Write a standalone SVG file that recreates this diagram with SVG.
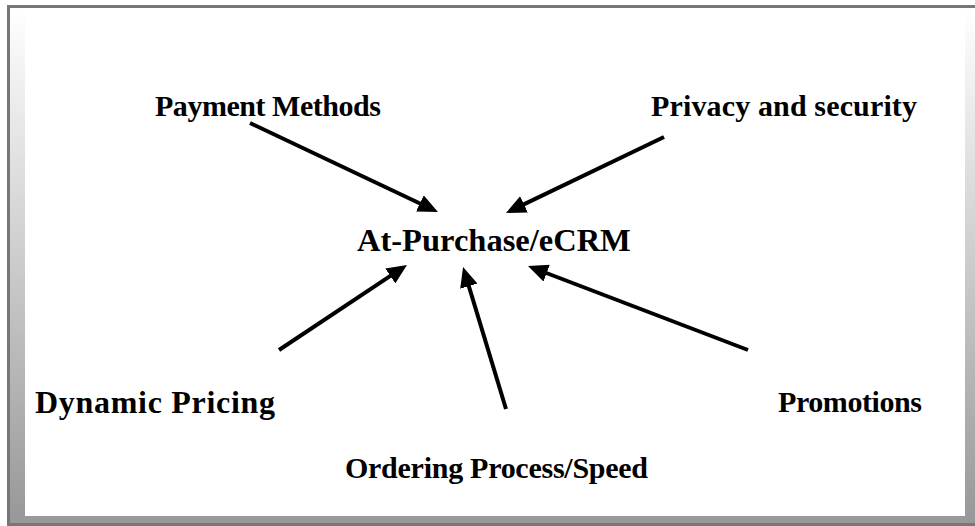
<svg xmlns="http://www.w3.org/2000/svg" width="975" height="526" viewBox="0 0 975 526">
<style>
.lbl{font-family:"Liberation Serif","Times New Roman",serif;font-weight:bold;font-size:30px;fill:#000}
.ctr{font-size:32.5px}
.big{font-size:32px}
.conn line{stroke:#000;stroke-width:4;fill:none;marker-end:url(#ah)}
</style>
<defs>
<linearGradient id="fade" x1="0" y1="0" x2="0" y2="1">
<stop offset="0" stop-color="#ffffff"/>
<stop offset="1" stop-color="#999999"/>
</linearGradient>
<marker id="ah" markerUnits="userSpaceOnUse" markerWidth="20" markerHeight="18" refX="6" refY="9" orient="auto">
<path d="M0,0 L20,9 L0,18 z" fill="#000"/>
</marker>
</defs>
<g id="frame">
<rect x="0" y="0" width="975" height="526" fill="#fff"/>
<rect x="10" y="8" width="15" height="508" fill="url(#fade)"/>
<rect x="965" y="8" width="10" height="508" fill="url(#fade)"/>
<rect x="10" y="516" width="965" height="8" fill="#999"/>
<rect x="7" y="523" width="968" height="3" fill="#777"/>
<rect x="7" y="5" width="968" height="3" fill="#777"/>
<rect x="7" y="5" width="3" height="521" fill="#777"/>
</g>
<g id="connectors" class="conn">
<line x1="250" y1="123" x2="425.3" y2="206"/>
<line x1="664" y1="137" x2="518.6" y2="206.9"/>
<line x1="279" y1="350" x2="395.3" y2="272.7"/>
<line x1="506" y1="409" x2="467.1" y2="280.4"/>
<line x1="748" y1="350" x2="541.1" y2="271"/>
</g>
<g id="center"><text class="lbl ctr" x="357" y="251">At-Purchase/eCRM</text></g>
<g id="payment"><text class="lbl" x="155" y="116" textLength="226">Payment Methods</text></g>
<g id="privacy"><text class="lbl" x="651" y="116" textLength="266">Privacy and security</text></g>
<g id="dynamic"><text class="lbl big" x="35" y="413" textLength="240">Dynamic Pricing</text></g>
<g id="promotions"><text class="lbl" x="778" y="412" textLength="144">Promotions</text></g>
<g id="ordering"><text class="lbl" x="345" y="478" textLength="303">Ordering Process/Speed</text></g>
</svg>
